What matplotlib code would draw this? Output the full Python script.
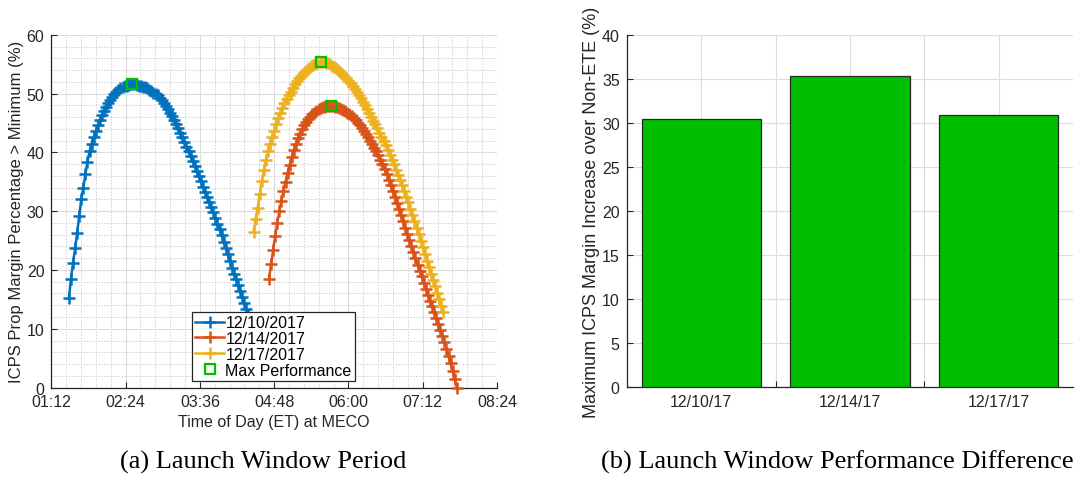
import numpy as np
import matplotlib
matplotlib.use("Agg")
import matplotlib.pyplot as plt
from matplotlib.ticker import MultipleLocator, FixedLocator

plt.rcParams["font.family"] = ["Liberation Sans", "DejaVu Sans"]

# Launch window data: MECO time (minutes after midnight, 2-min step) and margin (%)
blue_start = 89
blue_vals = [15.2, 18.5, 21.2, 23.7, 26.3, 29.2, 32.0, 34.0, 36.3, 38.4,
             40.2, 41.5, 42.6, 43.6, 44.6, 45.5, 46.3, 47.1, 47.8, 48.4,
             49.0, 49.5, 49.9, 50.3, 50.6, 50.9, 51.1, 51.3, 51.4, 51.5,
             51.6, 51.6, 51.6, 51.5, 51.4, 51.3, 51.2, 51.1, 50.9, 50.7,
             50.4, 50.2, 49.9, 49.7, 49.3, 48.9, 48.4, 47.9, 47.4, 46.8,
             46.2, 45.5, 44.8, 44.1, 43.3, 42.6, 41.8, 41.0, 40.2, 39.4,
             38.5, 37.7, 36.8, 36.0, 35.1, 34.2, 33.3, 32.5, 31.6, 30.7,
             29.8, 28.9, 27.9, 26.9, 25.9, 24.8, 23.8, 22.7, 21.6, 20.4,
             19.4, 18.4, 17.4, 16.4, 15.4, 14.4, 13.4, 12.3, 11.2]

red_start = 283
red_vals = [18.5, 21.0, 23.4, 25.8, 28.0, 30.0, 31.8, 33.4, 35.0, 36.5,
            37.9, 39.2, 40.4, 41.5, 42.4, 43.2, 44.0, 44.6, 45.2, 45.7,
            46.1, 46.5, 46.8, 47.1, 47.4, 47.6, 47.7, 47.8, 47.9, 47.9,
            47.9, 47.9, 47.8, 47.7, 47.6, 47.4, 47.2, 47.0, 46.7, 46.5,
            46.2, 45.9, 45.5, 45.1, 44.7, 44.2, 43.7, 43.2, 42.6, 42.0,
            41.4, 40.8, 40.2, 39.5, 38.8, 38.0, 37.2, 36.3, 35.3, 34.4,
            33.4, 32.4, 31.4, 30.3, 29.3, 28.3, 27.2, 26.2, 25.1, 24.1,
            23.0, 22.0, 20.9, 19.9, 18.9, 17.8, 16.8, 15.8, 14.8, 13.8,
            12.8, 11.8, 10.8, 9.8, 8.8, 7.7, 6.6, 5.4, 4.1, 2.8,
            1.4, 0.0]

yellow_start = 268
yellow_vals = [26.5, 28.7, 30.6, 33.0, 35.1, 37.1, 38.8, 40.2, 41.5, 42.6,
               43.7, 44.8, 45.8, 46.7, 47.6, 48.4, 49.1, 49.7, 50.3, 51.0,
               51.6, 52.1, 52.6, 53.0, 53.4, 53.7, 54.0, 54.4, 54.7, 54.9,
               55.1, 55.3, 55.4, 55.4, 55.4, 55.3, 55.2, 55.0, 54.8, 54.6,
               54.3, 54.0, 53.7, 53.4, 53.0, 52.6, 52.2, 51.8, 51.3, 50.8,
               50.3, 49.8, 49.2, 48.6, 48.0, 47.4, 46.7, 46.1, 45.4, 44.8,
               44.1, 43.4, 42.7, 42.0, 41.2, 40.4, 39.6, 38.8, 38.0, 37.1,
               36.2, 35.3, 34.4, 33.5, 32.5, 31.5, 30.4, 29.4, 28.3, 27.2,
               26.1, 25.0, 23.9, 22.8, 21.6, 20.5, 19.4, 18.3, 17.2, 16.1,
               15.0, 13.9, 12.8]

step = 2
series_labels = ["12/10/2017", "12/14/2017", "12/17/2017"]

peak_t = [150, 343, 333]
peak_v = [51.6, 47.9, 55.4]

xtick_min = [72, 144, 216, 288, 360, 432, 504]
xtick_lbl = ["01:12", "02:24", "03:36", "04:48", "06:00", "07:12", "08:24"]

bar_labels = ["12/10/17", "12/14/17", "12/17/17"]
bar_vals = [30.5, 35.3, 30.9]

dark = "#262626"
colors = ["#0072BD", "#D95319", "#EDB120"]

fig = plt.figure(figsize=(10.79, 4.81), dpi=100)
ax1 = fig.add_axes([0.0476, 0.1923, 0.4130, 0.7329])
ax2 = fig.add_axes([0.5808, 0.1927, 0.4139, 0.7325])


def style(ax):
    for s in ["top", "right"]:
        ax.spines[s].set_visible(False)
    for s in ["left", "bottom"]:
        ax.spines[s].set_color(dark)
        ax.spines[s].set_linewidth(0.9)
    ax.tick_params(which="major", direction="in", length=4, width=0.8,
                   color=dark, labelcolor=dark, labelsize=11.5, pad=5)
    ax.tick_params(which="minor", length=0)
    ax.set_axisbelow(True)


# ---- (a) launch window period
style(ax1)
for start, vals, c, lab in zip([blue_start, red_start, yellow_start],
                               [blue_vals, red_vals, yellow_vals], colors, series_labels):
    t = start + step * np.arange(len(vals))
    ax1.plot(t, vals, color=c, lw=1.8, marker="+", ms=8.8, mew=1.8,
             label=lab, clip_on=False, zorder=3)
ax1.plot(peak_t, peak_v, ls="none", marker="s", ms=7.5, mfc="none",
         mec="#00C000", mew=1.6, label="Max Performance", zorder=4)

ax1.set_xlim(72, 504)
ax1.set_ylim(0, 60)
ax1.xaxis.set_major_locator(FixedLocator(xtick_min))
ax1.set_xticklabels(xtick_lbl)
ax1.xaxis.set_minor_locator(MultipleLocator(14.4))
ax1.yaxis.set_major_locator(MultipleLocator(10))
ax1.yaxis.set_minor_locator(MultipleLocator(2))
ax1.grid(which="major", color="#DCDCDC", lw=0.8)
ax1.grid(which="minor", color="#D2D2D2", lw=0.7, ls=(0, (1.5, 1.5)))
ax1.set_xlabel("Time of Day (ET) at MECO", fontsize=11.5, color=dark, labelpad=3)
ax1.set_ylabel("ICPS Prop Margin Percentage > Minimum (%)", fontsize=12,
               color=dark, labelpad=2)

leg = ax1.legend(loc="upper left", bbox_to_anchor=(0.3155, 0.214),
                 borderaxespad=0, fontsize=11.5, numpoints=1, handlelength=1.8,
                 handletextpad=0.1, labelspacing=0.05, borderpad=0.2,
                 fancybox=False, framealpha=1, edgecolor=dark)
leg.get_frame().set_linewidth(0.9)
leg.set_zorder(10)

# ---- (b) performance difference
style(ax2)
pos = np.arange(1, len(bar_vals) + 1)
ax2.bar(pos, bar_vals, width=0.8, color="#00BF00", edgecolor=dark,
        linewidth=0.9, zorder=3)
ax2.set_xlim(0.5, 3.5)
ax2.set_ylim(0, 40)
ax2.set_xticks(pos)
ax2.set_xticklabels(bar_labels)
ax2.xaxis.set_minor_locator(FixedLocator([1.5, 2.5]))
ax2.tick_params(which="minor", direction="in", length=4, width=0.8, color=dark)
ax2.yaxis.set_major_locator(MultipleLocator(5))
ax2.grid(which="major", color="#DCDCDC", lw=0.8)
ax2.grid(which="minor", axis="x", color="#DCDCDC", lw=0.8)
ax2.set_ylabel("Maximum ICPS Margin Increase over Non-ETE (%)", fontsize=13,
               color=dark, labelpad=1)

# sub-captions
fig.text(0.2437, 0.039, "(a) Launch Window Period", ha="center", va="center",
         family="Liberation Serif", fontsize=19, color="black")
fig.text(0.7757, 0.039, "(b) Launch Window Performance Difference", ha="center",
         va="center", family="Liberation Serif", fontsize=19, color="black")

fig.savefig("out.png", dpi=100)
